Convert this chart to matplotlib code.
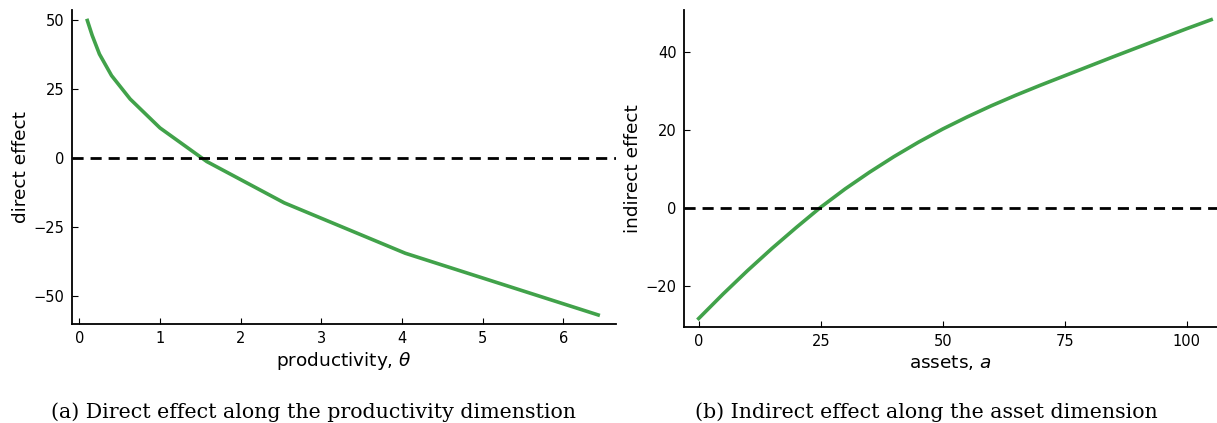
import numpy as np
import matplotlib as ml
ml.use('Agg')
import matplotlib.pyplot as plt

# direct effect along the productivity grid
theta_grid = [0.10, 0.16, 0.25, 0.40, 0.63, 1.00, 1.58, 2.54, 4.04, 6.43]
direct_eff = [50.0, 44.6, 37.8, 30.0, 21.5, 11.0, -1.2, -16.2, -34.5, -56.9]

# indirect effect along the asset grid
asset_grid = [0, 5, 10, 15, 20, 25, 30, 35, 40, 45, 50, 55, 60, 65, 70,
              75, 80, 85, 90, 95, 100, 105]
indirect_eff = [-28.4, -22.1, -16.1, -10.4, -5.0, 0.2, 4.9, 9.2, 13.2, 16.9,
                20.3, 23.4, 26.3, 29.0, 31.55, 34.0, 36.45, 38.9, 41.3, 43.7,
                46.1, 48.4]

green = '#41a24a'
tick_fs = 10.5
label_fs = 13.3

fig = plt.figure(figsize=(12.17, 4.23), dpi=100)

def style(ax):
    ax.spines['top'].set_visible(False)
    ax.spines['right'].set_visible(False)
    ax.spines['left'].set_linewidth(1.3)
    ax.spines['bottom'].set_linewidth(1.3)
    ax.tick_params(direction='in', length=4, width=0.8, labelsize=tick_fs, pad=5)

# (a) productivity
ax1 = fig.add_axes([0.0589, 0.2333, 0.447, 0.743])
ax1.plot(theta_grid, direct_eff, color=green, lw=2.6)
ax1.axhline(0, color='black', ls='--', lw=2, dashes=(4, 2.5))
ax1.set_xlim(-0.094, 6.647)
ax1.set_ylim(-60.3, 53.8)
ax1.set_xticks([0, 1, 2, 3, 4, 5, 6])
ax1.set_yticks([-50, -25, 0, 25, 50])
ax1.set_xlabel(r'productivity, $\theta$', fontsize=label_fs, labelpad=3)
ax1.set_ylabel('direct effect', fontsize=label_fs, labelpad=3)
style(ax1)

# (b) assets
ax2 = fig.add_axes([0.5618, 0.2277, 0.4382, 0.7487])
ax2.plot(asset_grid, indirect_eff, color=green, lw=2.6)
ax2.axhline(0, color='black', ls='--', lw=2, dashes=(4, 2.5))
ax2.set_xlim(-3.07, 106.2)
ax2.set_ylim(-30.5, 50.9)
ax2.set_xticks([0, 25, 50, 75, 100])
ax2.set_yticks([-20, 0, 20, 40])
ax2.set_xlabel(r'assets, $a$', fontsize=label_fs, labelpad=3)
ax2.set_ylabel('indirect effect', fontsize=label_fs, labelpad=3)
style(ax2)

# sub-captions
fig.text(0.258, 0.012, '(a) Direct effect along the productivity dimenstion',
         ha='center', va='baseline', fontsize=14.8, family='DejaVu Serif')
fig.text(0.761, 0.012, '(b) Indirect effect along the asset dimension',
         ha='center', va='baseline', fontsize=14.8, family='DejaVu Serif')

fig.savefig('out.png', dpi=100)
